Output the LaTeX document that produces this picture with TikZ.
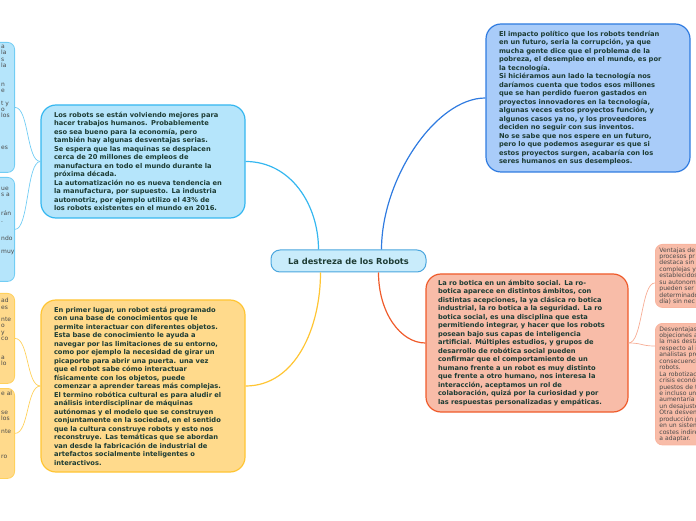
\documentclass[tikz,border=0pt]{standalone}
\usepackage{fontspec}
\setmainfont{DejaVu Sans}
\definecolor{Ink}{HTML}{1D3C34}
\definecolor{StubInk}{HTML}{4A4A4A}
\definecolor{SkyFill}{HTML}{B5E5FB}
\definecolor{SkyLine}{HTML}{35B7F0}
\definecolor{SunFill}{HTML}{FFDA8C}
\definecolor{SunLine}{HTML}{FFC533}
\definecolor{BlueFill}{HTML}{A9CCF9}
\definecolor{BlueLine}{HTML}{2F7BE0}
\definecolor{CoralFill}{HTML}{F8BCA8}
\definecolor{CoralLine}{HTML}{EF5B2B}
\definecolor{RootFill}{HTML}{C9ECFB}
\definecolor{RootLine}{HTML}{4BA6DE}
\tikzset{
  root node/.style={draw=RootLine,line width=1pt,fill=RootFill,rounded corners=9pt,
    minimum width=155pt,minimum height=22pt,inner sep=0pt,
    font=\fontsize{8.3}{10}\selectfont\bfseries,text=Ink},
  idea node/.style={line width=1.2pt,rounded corners=15pt,align=left,
    text width=178pt,minimum width=204pt,inner sep=0pt,
    font=\fontsize{6.7}{8.5}\selectfont\bfseries,text=Ink},
  stub node/.style={line width=.8pt,rounded corners=7pt,minimum width=165pt,inner sep=0pt},
  stub text/.style={align=left,inner sep=0pt,
    font=\fontsize{6}{6.3}\selectfont,text=StubInk},
  side node/.style={line width=.8pt,rounded corners=7pt,align=left,
    text width=90pt,inner xsep=4pt,inner ysep=3pt,
    font=\fontsize{6.1}{6.45}\selectfont,text=StubInk},
  idea link/.style={line width=1.2pt},
  stub link/.style={line width=.7pt}
}

\begin{document}
\begin{tikzpicture}[x=1pt,y=1pt]
  \clip (0,0) rectangle (696,520);
  \node[root node] (robots) at (348.5,259) {La destreza de los Robots};

  \node[idea node,draw=SkyLine,fill=SkyFill,minimum height=113pt] (work) at (143,358.5)
    {Los robots se están volviendo mejores para\\
     hacer trabajos humanos. Probablemente\\
     eso sea bueno para la economía, pero\\
     también hay algunas desventajas serias.\\
     Se espera que las maquinas se desplacen\\
     cerca de 20 millones de empleos de\\
     manufactura en todo el mundo durante la\\
     próxima década.\\
     La automatización no es nueva tendencia en\\
     la manufactura, por supuesto. La industria\\
     automotriz, por ejemplo utilizo el 43\% de\\
     los robots existentes en el mundo en 2016.};
  \node[idea node,draw=SunLine,fill=SunFill,minimum height=172pt] (culture) at (143,134)
    {En primer lugar, un robot está programado\\
     con una base de conocimientos que le\\
     permite interactuar con diferentes objetos.\\
     Esta base de conocimiento le ayuda a\\
     navegar por las limitaciones de su entorno,\\
     como por ejemplo la necesidad de girar un\\
     picaporte para abrir una puerta. una vez\\
     que el robot sabe cómo interactuar\\
     físicamente con los objetos, puede\\
     comenzar a aprender tareas más complejas.\\
     El termino robótica cultural es para aludir el\\
     análisis interdisciplinar de máquinas\\
     autónomas y el modelo que se construyen\\
     conjuntamente en la sociedad, en el sentido\\
     que la cultura construye robots y esto nos\\
     reconstruye. Las temáticas que se abordan\\
     van desde la fabricación de industrial de\\
     artefactos socialmente inteligentes o\\
     interactivos.};
  \node[idea node,draw=BlueLine,fill=BlueFill,minimum height=148pt] (politics) at (588,422)
    {El impacto político que los robots tendrían\\
     en un futuro, seria la corrupción, ya que\\
     mucha gente dice que el problema de la\\
     pobreza, el desempleo en el mundo, es por\\
     la tecnología.\\
     Si hiciéramos aun lado la tecnología nos\\
     daríamos cuenta que todos esos millones\\
     que se han perdido fueron gastados en\\
     proyectos innovadores en la tecnología,\\
     algunas veces estos proyectos función, y\\
     algunos casos ya no, y los proveedores\\
     deciden no seguir con sus inventos.\\
     No se sabe que nos espere en un futuro,\\
     pero lo que podemos asegurar es que si\\
     estos proyectos surgen, acabaría con los\\
     seres humanos en sus desempleos.};
  \node[idea node,draw=CoralLine,fill=CoralFill,minimum width=202pt,minimum height=138pt] (social) at (527,177)
    {La ro botica en un ámbito social. La ro-\\
     botica aparece en distintos ámbitos, con\\
     distintas acepciones, la ya clásica ro botica\\
     industrial, la ro botica a la seguridad. La ro\\
     botica social, es una disciplina que esta\\
     permitiendo integrar, y hacer que los robots\\
     posean bajo sus capas de inteligencia\\
     artificial. Múltiples estudios, y grupos de\\
     desarrollo de robótica social pueden\\
     confirmar que el comportamiento de un\\
     humano frente a un robot es muy distinto\\
     que frente a otro humano, nos interesa la\\
     interacción, aceptamos un rol de\\
     colaboración, quizá por la curiosidad y por\\
     las respuestas personalizadas y empáticas.};

  % cut boxes on the left edge
  \node[stub node,draw=SkyLine!70,fill=SkyFill,minimum height=130pt,anchor=north east] (workA) at (15,478) {};
  \node[stub node,draw=SkyLine!70,fill=SkyFill,minimum height=104pt,anchor=north east] (workB) at (15,343) {};
  \node[stub node,draw=SunLine!80,fill=SunFill,minimum height=90pt,anchor=north east] (cultureA) at (15,227) {};
  \node[stub node,draw=SunLine!80,fill=SunFill,minimum height=90pt,anchor=north east] (cultureB) at (15,132) {};
  \node[stub text,anchor=north west] (workAtext) at ([xshift=-14pt,yshift=-3pt]workA.north east)
    {a\\la\\s\\la\\[12.6pt]n\\e\\[6.3pt]t y\\o\\los\\[25.2pt]es};
  \node[stub text,anchor=north west] (workBtext) at ([xshift=-14pt,yshift=-10pt]workB.north east)
    {ue\\s a\\[12.6pt]rán\\.\\[12.6pt]ndo\\[6.3pt]muy};
  \node[stub text,anchor=north west] (cultureAtext) at ([xshift=-14pt,yshift=-5pt]cultureA.north east)
    {ad\\es\\[6.3pt]nte\\o\\y\\co\\[12.6pt]a\\lo};
  \node[stub text,anchor=north west] (cultureBtext) at ([xshift=-14pt,yshift=-3pt]cultureB.north east)
    {e al\\[12.6pt]se\\los\\[6.3pt]nte\\[18.9pt]ro};

  % cut boxes on the right edge
  \node[side node,draw=CoralLine!45,fill=CoralFill,minimum height=63pt,anchor=north west] (socialA) at (655,276)
    {Ventajas de\\procesos pr\\destaca sin\\complejas y\\establecidos\\su autonomí\\pueden ser\\determinado\\día) sin nec};
  \node[side node,draw=CoralLine!45,fill=CoralFill,minimum height=121pt,anchor=north west] (socialB) at (655,197)
    {Desventajas d\\objeciones a\\la mas desta\\respecto al in\\analistas pre\\consecuencia\\robots.\\La robotizació\\crisis económ\\puestos de tr\\e incluso una\\aumentaría la\\un desajuste\\Otra desvent\\producción p\\en un sistema\\costes indirec\\a adaptar.};

  \draw[idea link,draw=SkyLine] ([xshift=-30pt]robots.north) .. controls +(0,45) and +(45,0) .. (work.east);
  \draw[idea link,draw=SunLine] ([xshift=-28pt]robots.south) .. controls +(0,-55) and +(50,0) .. (culture.east);
  \draw[idea link,draw=BlueLine] ([xshift=33pt]robots.north) .. controls +(0,70) and +(-50,0) .. (politics.west);
  \draw[idea link,draw=CoralLine] ([xshift=30pt]robots.south) .. controls +(0,-40) and +(-25,0) .. (social.west);

  \draw[stub link,draw=SkyLine!70] (work.west) .. controls +(-14,0) and +(14,0) .. (workA.east);
  \draw[stub link,draw=SkyLine!70] (work.west) .. controls +(-14,0) and +(14,0) .. (workB.east);
  \draw[stub link,draw=SunLine!80] (culture.west) .. controls +(-14,0) and +(14,0) .. (cultureA.east);
  \draw[stub link,draw=SunLine!80] (culture.west) .. controls +(-14,0) and +(14,0) .. (cultureB.east);
  \draw[stub link,draw=CoralLine!50] (social.east) .. controls +(14,0) and +(-14,0) .. ([yshift=-7pt]socialA.west);
  \draw[stub link,draw=CoralLine!50] (social.east) .. controls +(14,0) and +(-14,0) .. ([yshift=-23pt]socialB.north west);
\end{tikzpicture}
\end{document}
